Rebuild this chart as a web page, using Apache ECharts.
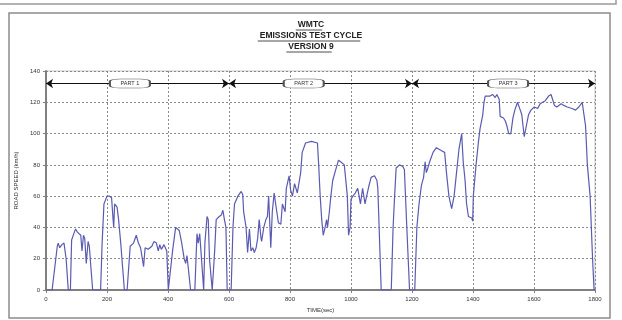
<!DOCTYPE html>
<html>
<head>
<meta charset="utf-8">
<script src="https://cdn.jsdelivr.net/npm/echarts@6/dist/echarts.min.js"></script>
<style>
html,body{margin:0;padding:0;background:#fff;}
#wmtcChart{width:622px;height:320px;}
</style>
</head>
<body>
<div id="wmtcChart"></div>
<script>
// WMTC emissions test cycle, speed trace
var timeSec = [
  0,20,37,40,45,52,59,63,66,73,80,84,93,97,103,109,114,118,123,127,132,138,142,147,153,
  179,184,190,200,208,215,220,222,225,230,233,238,245,257,266,276,287,296,303,310,315,320,
  325,335,347,354,362,368,373,378,387,396,399,401,407,415,425,430,437,445,453,458,462,466,
  474,488,495,499,504,508,517,521,528,532,536,545,550,553,558,568,575,580,585,590,594,607,
  613,618,629,640,645,648,656,661,667,672,678,683,689,694,699,705,707,714,721,726,730,737,
  742,748,753,762,770,775,784,788,797,802,808,815,824,835,840,851,870,890,894,899,904,909,
  915,920,923,929,934,940,950,959,966,978,983,988,992,997,1000,1006,1014,1022,1031,1038,
  1046,1049,1058,1066,1077,1085,1088,1099,1132,1138,1143,1148,1159,1170,1175,1183,1192,1209,
  1216,1223,1231,1238,1243,1247,1252,1258,1269,1280,1297,1307,1313,1321,1330,1338,1346,1354,
  1363,1365,1368,1374,1379,1385,1396,1399,1401,1410,1418,1423,1432,1436,1440,1456,1464,1473,
  1478,1486,1489,1500,1506,1511,1517,1524,1531,1537,1546,1550,1555,1560,1564,1568,1575,1582,
  1590,1601,1612,1620,1637,1648,1656,1667,1675,1689,1698,1709,1725,1736,1747,1758,1764,1769,
  1775,1784,1786,1792,1797,1800
];
var speedKmh = [
  0,0,28,30,27,29,30,31,20,0,0,32,37,39,37,37,35,25,35,33,17,31,28,15,0,
  0,30,55,60,60,59,45,40,55,55,53,45,30,0,0,28,30,35,30,27,28,15,
  27,26,28,31,30,25,29,26,29,25,10,0,0,25,40,41,38,30,20,17,22,15,
  0,0,36,30,36,25,0,30,47,45,20,0,0,25,45,47,48,51,45,40,0,0,
  40,55,60,63,61,50,40,24,39,25,27,24,27,33,45,33,31,40,45,47,60,27,
  50,62,55,43,42,55,50,65,73,64,60,68,62,75,88,94,95,94,80,60,45,35,
  40,45,40,50,60,70,77,83,82,80,79,60,35,40,58,60,62,65,55,65,
  55,58,66,72,73,70,65,0,0,40,60,78,80,79,77,40,0,0,
  40,55,67,72,82,75,78,82,88,91,89,88,75,60,52,60,75,90,
  100,92,82,70,55,47,46,44,60,80,95,103,112,120,124,124,125,123,
  125,122,111,110,108,105,100,100,110,115,120,121,115,112,105,98,105,112,
  115,117,116,119,121,124,125,118,117,119,118,117,116,115,117,120,120,105,
  80,60,50,20,0,0
];

var partNames = ['PART 1', 'PART 2', 'PART 3'];
var partStart = [0, 600, 1200];
var partEnd = [600, 1200, 1800];
var partLabelTime = [275, 845, 1515];
var partLevel = 132;

var titleLines = ['WMTC', 'EMISSIONS TEST CYCLE', 'VERSION 9'];

var titleFont = 'bold 8.5px "Liberation Sans", Arial, sans-serif';
var axisGray = '#808080';
var gridGray = '#8a8a8a';

var speedData = [];
for (var i = 0; i < timeSec.length; i++) {
  speedData.push([timeSec[i], speedKmh[i]]);
}

var arrowLines = [];
var partBoxes = [];
for (var p = 0; p < partNames.length; p++) {
  arrowLines.push([{coord: [partStart[p], partLevel]}, {coord: [partEnd[p], partLevel]}]);
  partBoxes.push({name: partNames[p], coord: [partLabelTime[p], partLevel]});
}

// title is drawn as text + hand made underline
var measure = document.createElement('canvas').getContext('2d');
measure.font = titleFont;
var titleGraphics = [];
var titleY = [25, 36, 47];
for (var t = 0; t < titleLines.length; t++) {
  var w = measure.measureText(titleLines[t]).width;
  titleGraphics.push({
    type: 'text', left: 'center', top: titleY[t] - 5, z: 10,
    style: {text: titleLines[t], font: titleFont, fill: '#222'}
  });
  titleGraphics.push({
    type: 'line', z: 10,
    shape: {x1: 309 - w / 2, y1: titleY[t] + 5, x2: 309 + w / 2, y2: titleY[t] + 5},
    style: {stroke: '#222', lineWidth: 0.8}
  });
}

var chart = echarts.init(document.getElementById('wmtcChart'));
var option = {
  animation: false,
  backgroundColor: '#fff',
  graphic: [
    {type: 'rect', shape: {x: -5, y: -20, width: 621, height: 24},
     style: {fill: '#fff', stroke: '#999', lineWidth: 1.5}},
    {type: 'rect', shape: {x: 9, y: 13, width: 601, height: 305},
     style: {fill: 'none', stroke: '#8c8c8c', lineWidth: 1.5}}
  ].concat(titleGraphics),
  grid: {
    left: 46, right: 27, top: 71, bottom: 30,
    show: true, borderColor: '#c8c8c8', borderWidth: 1
  },
  xAxis: {
    type: 'value', min: 0, max: 1800, interval: 200,
    name: 'TIME(sec)', nameLocation: 'middle', nameGap: 15,
    nameTextStyle: {fontSize: 6, color: '#333', fontFamily: 'Liberation Sans'},
    axisLine: {lineStyle: {color: axisGray, width: 2}},
    axisTick: {show: true, length: 3, lineStyle: {color: axisGray}},
    axisLabel: {
      fontSize: 6, color: '#333', margin: 6, fontFamily: 'Liberation Sans',
      formatter: function (v) { return String(v); }
    },
    splitLine: {show: true, lineStyle: {color: gridGray, type: [2, 2], width: 1}}
  },
  yAxis: {
    type: 'value', min: 0, max: 140, interval: 20,
    name: 'ROAD SPEED (km/h)', nameLocation: 'middle', nameGap: 22, nameRotate: 90,
    nameTextStyle: {fontSize: 6, color: '#333', fontFamily: 'Liberation Sans'},
    axisLine: {show: true, lineStyle: {color: axisGray, width: 2}},
    axisTick: {show: true, length: 3, lineStyle: {color: axisGray}},
    axisLabel: {fontSize: 6, color: '#333', margin: 6, fontFamily: 'Liberation Sans'},
    splitLine: {show: true, lineStyle: {color: gridGray, type: [2, 2], width: 1}}
  },
  series: [{
    type: 'line',
    data: speedData,
    showSymbol: false,
    lineStyle: {color: '#5a5ab2', width: 1.2},
    markLine: {
      silent: true,
      symbol: ['arrow', 'arrow'],
      symbolSize: 7,
      lineStyle: {color: '#111', type: 'solid', width: 1},
      itemStyle: {color: '#111'},
      label: {show: false},
      data: arrowLines
    },
    markPoint: {
      silent: true,
      symbol: 'roundRect',
      symbolSize: [40, 9],
      itemStyle: {color: '#fff', borderColor: '#555', borderWidth: 1},
      label: {show: true, formatter: '{b}', fontSize: 5.5, color: '#333', fontFamily: 'Liberation Sans'},
      data: partBoxes
    }
  }]
};
chart.setOption(option);
</script>
</body>
</html>
